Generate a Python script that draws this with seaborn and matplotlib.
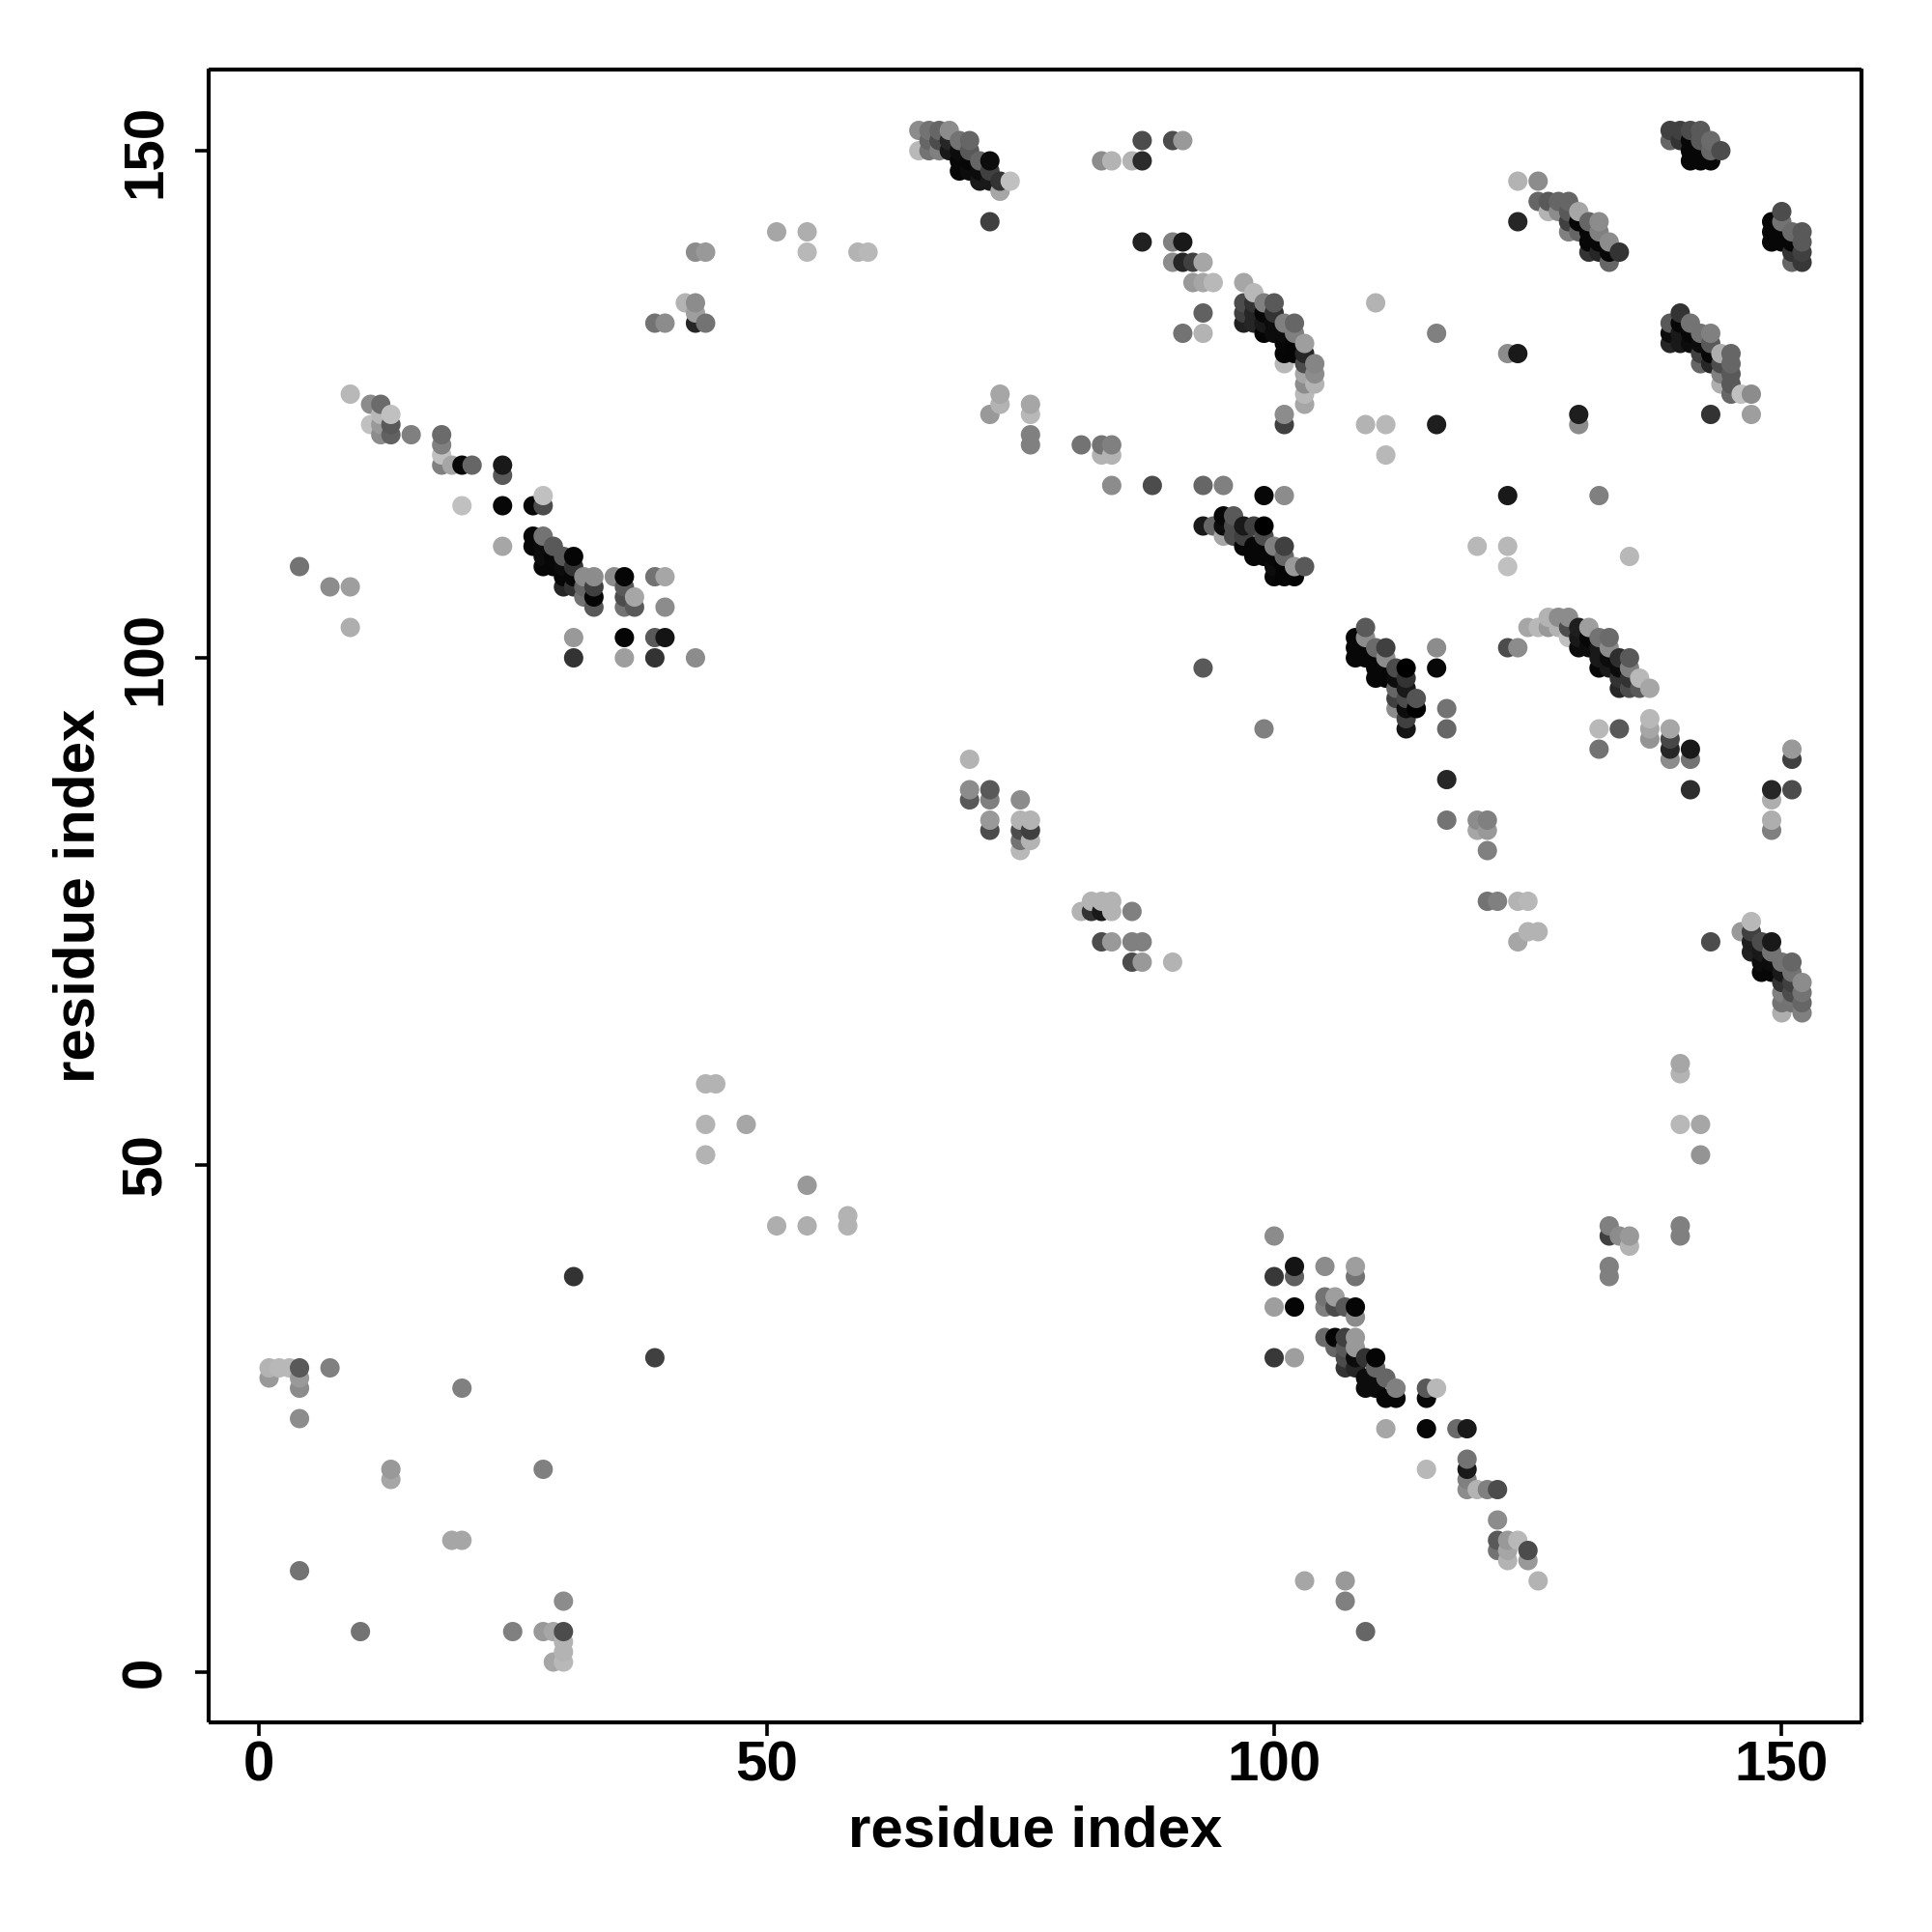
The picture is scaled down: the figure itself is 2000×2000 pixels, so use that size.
import matplotlib
matplotlib.use("Agg")
import matplotlib.pyplot as plt
import seaborn as sns
import pandas as pd

# (residue x, residue y, gray level 0=black 1=white)
helix_a = [(9,126,.72),(11,125,.55),(12,125,.42),(13,124,.75),(11,123,.75),(12,124,.72),(12,123,.6),(12,122,.55),(13,123,.35),(13,122,.38),(15,122,.5),
 (18,122,.42),(18,121,.5),(18,120,.75),(18,119,.5),(19,119,.65),(20,119,.03),(21,119,.4),(24,119,.1),(24,118,.35),(20,115,.75),(24,115,.03),(27,115,.03),(28,115,.3),(28,116,.75),(24,111,.65),
 (9,107,.62),(9,103,.68),(7,107,.55),(4,109,.45)]
cluster_b = [(27,112,.03),(27,111,.03),(28,112,.45),(29,111,.35),(28,111,.05),(28,110,.05),(28,109,.03),(29,110,.03),(29,109,.03),(30,110,.35),(31,110,.02),(30,109,.05),(30,108,.03),(30,107,.15),(31,109,.2),(31,108,.03),(31,107,.2),(32,108,.55),(33,108,.55),(32,107,.4),(32,106,.45),(33,107,.25),(33,106,.02),(33,105,.35),(35,108,.55),(36,108,.02),(36,107,.35),(36,106,.3),(36,105,.45),(37,106,.65),(37,105,.35),(39,108,.45),(40,108,.65),(40,105,.55),(31,102,.6),(36,102,.02),(39,102,.35),(40,102,.08),(31,100,.2),(36,100,.62),(39,100,.2),(43,100,.55)]
cluster_c = [(65,152,.55),(65,150,.72),(66,152,.45),(66,151,.4),(66,150,.45),(67,152,.4),(67,151,.3),(67,150,.5),(68,152,.55),(68,151,.15),(68,150,.1),(69,151,.45),(69,150,.05),(69,149,.03),(69,148,.03),(70,151,.4),(70,150,.35),(70,149,.03),(70,148,.05),(71,149,.4),(71,148,.05),(71,147,.1),(72,149,.05),(72,148,.25),(72,147,.1),(73,147,.2),(73,146,.65),(74,147,.75),(72,143,.25),
 (87,151,.3),(90,151,.3),(91,151,.6),(83,149,.55),(84,149,.7),(86,149,.7),(87,149,.17),(87,141,.13),(90,141,.5),(91,141,.1),(90,139,.55),(91,139,.15),(92,139,.25),(93,139,.65),(92,137,.6),(93,137,.65),(94,137,.72),(93,134,.38),(91,132,.45),(93,132,.7)]
cluster_d = [(97,137,.65),(97,135,.3),(97,134,.25),(97,133,.13),(98,136,.72),(98,135,.2),(98,134,.15),(98,133,.15),(99,135,.5),(99,134,.03),(99,133,.1),(99,132,.02),(100,135,.35),(100,134,.2),(100,133,.05),(100,132,.05),(101,133,.5),(101,132,.05),(101,131,.03),(101,130,.02),(102,133,.4),(102,132,.5),(102,131,.02),(102,130,.02),(103,131,.62),(103,130,.15),(103,129,.3),(101,129,.72),(103,128,.65),(103,127,.55),(103,126,.72),(103,125,.65),(104,129,.52),(104,128,.55),(104,127,.7),(101,124,.55),(101,123,.25),
 (110,135,.7),(116,132,.5),(109,123,.7),(111,123,.72),(116,123,.12),(111,120,.72)]
cluster_e = [(93,113,.1),(94,113,.4),(95,114,.03),(95,113,.05),(95,112,.65),(96,114,.35),(96,113,.3),(96,112,.3),(97,113,.1),(97,112,.25),(97,111,.03),(98,113,.25),(98,111,.03),(98,110,.03),(99,113,.0),(99,112,.3),(99,111,.03),(99,110,.03),(100,111,.5),(100,110,.03),(100,109,.05),(100,108,.03),(101,111,.25),(101,110,.4),(101,109,.02),(101,108,.02),(102,109,.6),(102,108,.02),(103,109,.35),
 (93,117,.4),(95,117,.5),(99,116,.03),(101,116,.55),(93,99,.35),(99,93,.5)]
cluster_f = [(108,102,.03),(108,101,.03),(108,100,.03),(109,103,.35),(109,102,.55),(109,101,.03),(109,100,.03),(110,101,.42),(110,100,.03),(110,99,.03),(110,98,.03),(111,101,.25),(111,100,.55),(111,99,.03),(111,98,.03),(112,99,.3),(112,98,.05),(112,97,.4),(112,96,.25),(112,95,.55),(113,99,.0),(113,98,.2),(113,97,.1),(113,96,.3),(113,95,.05),(113,94,.25),(113,93,.08),(114,96,.33),(114,95,.0),
 (116,101,.55),(116,99,.03),(117,95,.45),(117,93,.4),(117,88,.15),(117,84,.45)]
cluster_g = [(123,101,.3),(124,101,.55),(125,103,.65),(126,103,.72),(127,104,.7),(127,103,.6),(128,104,.55),(128,103,.7),(129,104,.55),(129,103,.3),(129,102,.75),(130,103,.12),(130,102,.1),(130,101,.05),(131,103,.62),(131,102,.03),(131,101,.05),(132,102,.45),(132,101,.1),(133,102,.42),(133,101,.55),(132,100,.1),(132,99,.03),(133,100,.05),(133,99,.1),(134,100,.18),(134,99,.05),(134,98,.2),(134,97,.15),(135,100,.35),(135,99,.5),(135,98,.2),(135,97,.3),(136,98,.72),(136,97,.35),(137,97,.65),
 (132,93,.72),(134,93,.35),(132,91,.45),(137,94,.72),(137,93,.65),(137,92,.58),(139,93,.65),(139,92,.28),(139,91,.15),(139,90,.55),(141,91,.1),(141,90,.45),(141,87,.18),(149,87,.15),(151,87,.3),(151,91,.6),(151,90,.25),(149,86,.68),(149,84,.68),(149,83,.5)]
cluster_h = [(139,152,.25),(139,151,.4),(140,152,.25),(140,151,.2),(141,152,.3),(141,151,.03),(141,150,.03),(141,149,.03),(142,152,.35),(142,151,.35),(142,150,.03),(142,149,.03),(143,151,.42),(143,150,.4),(143,149,.03),(144,150,.3),
 (150,144,.3),(149,143,.03),(149,142,.03),(149,141,.03),(150,143,.45),(150,142,.03),(150,141,.03),(151,142,.42),(151,141,.03),(151,140,.2),(151,139,.4),(152,142,.35),(152,141,.35),(152,140,.25),(152,139,.22)]
cluster_i = [(124,147,.7),(126,147,.55),(124,143,.15),(126,145,.4),(127,145,.35),(128,145,.4),(129,145,.4),(127,144,.7),(128,144,.55),(129,144,.35),(129,143,.25),(129,142,.5),(130,144,.65),(130,143,.02),(130,142,.4),(131,143,.4),(132,143,.55),(131,142,.03),(131,141,.03),(131,140,.2),(132,142,.5),(132,141,.03),(132,140,.15),(133,141,.55),(133,140,.03),(133,139,.4),(134,140,.2)]
cluster_j = [(139,133,.35),(140,134,.2),(139,132,.05),(139,131,.15),(140,133,.03),(140,132,.1),(140,131,.1),(141,133,.45),(141,132,.03),(141,131,.05),(142,132,.45),(143,132,.5),(142,131,.05),(142,130,.25),(142,129,.4),(143,131,.35),(143,130,.03),(143,129,.15),(144,130,.68),(144,129,.3),(144,128,.5),(144,127,.68),(145,130,.4),(145,129,.4),(145,128,.35),(145,127,.35),(145,126,.4),(146,126,.75),(147,126,.55),(147,124,.62),(143,124,.2),(130,124,.12),(130,123,.55)]
cluster_k = [(147,74,.72),(146,73,.6),(147,73,.25),(147,72,.12),(147,71,.13),(148,72,.3),(148,71,.1),(148,70,.05),(148,69,.03),(149,72,.1),(149,71,.45),(149,70,.05),(149,69,.03),(150,70,.45),(150,69,.1),(150,68,.2),(150,67,.5),(150,66,.45),(150,65,.68),(151,70,.4),(151,69,.45),(151,68,.25),(151,67,.3),(151,66,.45),(152,68,.55),(152,67,.45),(152,66,.4),(152,65,.5),(143,72,.3)]
cluster_l = [(100,43,.55),(100,39,.22),(102,40,.08),(102,39,.38),(105,40,.55),(108,40,.62),(108,39,.45),(100,36,.62),(102,36,.02),(105,37,.45),(106,37,.62),(105,36,.5),(106,36,.3),(107,36,.35),(108,36,.02),(108,35,.55),(105,33,.42),(106,33,.02),(107,33,.25),(108,33,.6),(106,32,.4),(107,32,.35),(108,32,.6),(100,31,.22),(102,31,.62),(107,31,.3),(108,31,.05),(109,31,.2),(110,31,.02),(107,30,.2),(108,30,.15),(110,30,.4),(109,29,.05),(110,29,.05),(111,29,.4),(109,28,.05),(110,28,.05),(112,28,.5),(111,27,.03),(112,27,.03),(115,28,.35),(116,28,.72),(115,27,.03),(111,24,.65),(115,24,.03),(118,24,.42),(119,24,.1)]
lower_tail = [(119,21,.45),(119,20,.1),(119,19,.5),(119,18,.55),(120,18,.7),(121,18,.5),(122,18,.3),(115,20,.72),(122,15,.55),(122,13,.35),(123,13,.6),(124,13,.72),(122,12,.45),(123,12,.65),(125,12,.3),(123,11,.7),(125,11,.6),(126,9,.7),(103,9,.65),(107,9,.6),(107,7,.5),(109,4,.4),
 (140,44,.5),(140,43,.5),(140,60,.65),(140,59,.7),(140,54,.72),(142,54,.65),(142,51,.58),(133,44,.5),(133,43,.25),(134,43,.55),(135,43,.6),(135,42,.7),(133,40,.5),(133,39,.5)]
bottom_left = [(1,29,.6),(1,30,.7),(2,30,.72),(3,30,.72),(4,30,.35),(4,29,.6),(4,28,.55),(4,25,.55),(7,30,.5),(20,28,.5),(13,20,.6),(13,19,.65),(28,20,.5),(19,13,.65),(20,13,.65),(4,10,.45),(10,4,.45),(25,4,.5),(28,4,.6),(29,4,.65),(30,4,.3),(30,7,.55),(30,3,.7),(30,2,.7),(29,1,.65),(30,1,.72),(31,39,.2),(39,31,.25),
 (44,58,.7),(45,58,.7),(44,54,.7),(48,54,.65),(44,51,.7),(51,44,.68),(54,44,.68),(54,48,.6),(58,45,.7),(58,44,.7)]
top_left = [(51,142,.65),(54,142,.68),(54,140,.72),(59,140,.7),(60,140,.72),(43,140,.55),(44,140,.6),(42,135,.7),(43,135,.55),(43,134,.62),(39,133,.45),(40,133,.55),(43,133,.15),(44,133,.45)]
middle = [(73,126,.65),(73,125,.7),(72,124,.6),(76,125,.65),(76,124,.72),(76,122,.5),(76,121,.5),(81,121,.45),(83,121,.45),(84,121,.5),(83,120,.7),(84,120,.7),(84,117,.55),(88,117,.3),
 (123,116,.1),(132,116,.5),(120,111,.72),(123,111,.72),(123,109,.75),(135,110,.72),(123,130,.55),(124,130,.1),
 (70,90,.7),(70,87,.55),(70,86,.35),(72,87,.35),(72,86,.5),(75,86,.55),(72,84,.6),(72,83,.3),(75,84,.7),(76,84,.7),(75,83,.3),(76,83,.25),(75,82,.45),(76,82,.7),(75,81,.72),
 (81,75,.7),(82,75,.2),(82,76,.7),(83,76,.7),(83,75,.1),(84,76,.7),(84,75,.7),(86,75,.5),(83,72,.3),(84,72,.6),(86,72,.5),(87,72,.5),(86,70,.3),(87,70,.6),(90,70,.7),
 (120,84,.55),(121,84,.5),(120,83,.65),(121,83,.6),(121,81,.5),(121,76,.45),(122,76,.5),(124,76,.7),(125,76,.72),(125,73,.7),(126,73,.7),(124,72,.65)]
tick_values = [0, 50, 100, 150]
axis_label = "residue index"

groups = [helix_a, cluster_b, cluster_c, cluster_d, cluster_e, cluster_f, cluster_g, cluster_h,
          cluster_i, cluster_j, cluster_k, cluster_l, lower_tail, bottom_left, top_left, middle]
df = pd.DataFrame([p for g in groups for p in g], columns=["x", "y", "gray"]).sort_values(["x", "y"])

sns.set_theme(style="white")
plt.rcParams["font.family"] = ["Liberation Sans", "DejaVu Sans"]
fig = plt.figure(figsize=(10, 10), dpi=200)
ax = fig.add_axes([216/2000, 1-1783/2000, (1927-216)/2000, (1783-71.5)/2000])
sns.scatterplot(data=df, x="x", y="y", hue="gray", palette="gray", hue_norm=(0, 1),
                s=52, linewidth=0, legend=False, ax=ax, clip_on=True)
ax.set_xlim(-4.95, 157.85)
ax.set_ylim(-4.95, 158.05)
ax.set_xticks(tick_values)
ax.set_yticks(tick_values)
ax.tick_params(axis="x", length=5, width=1.3, color="black", bottom=True, pad=1.5)
ax.tick_params(axis="y", length=5, width=1.3, color="black", left=True, pad=8.5)
for lab in ax.get_xticklabels():
    lab.set_fontsize(21); lab.set_fontweight("bold"); lab.set_color("black")
for lab in ax.get_yticklabels():
    lab.set_fontsize(21); lab.set_fontweight("bold"); lab.set_color("black")
    lab.set_rotation(90); lab.set_va("center")
ax.set_xlabel(axis_label, fontsize=21.6, fontweight="bold", color="black", labelpad=5)
ax.set_ylabel(axis_label, fontsize=21.6, fontweight="bold", color="black", labelpad=5.5)
for s in ax.spines.values():
    s.set_visible(True); s.set_color("black"); s.set_linewidth(1.5); s.set_capstyle("butt")
fig.savefig("out.png", dpi=200, facecolor="white")
